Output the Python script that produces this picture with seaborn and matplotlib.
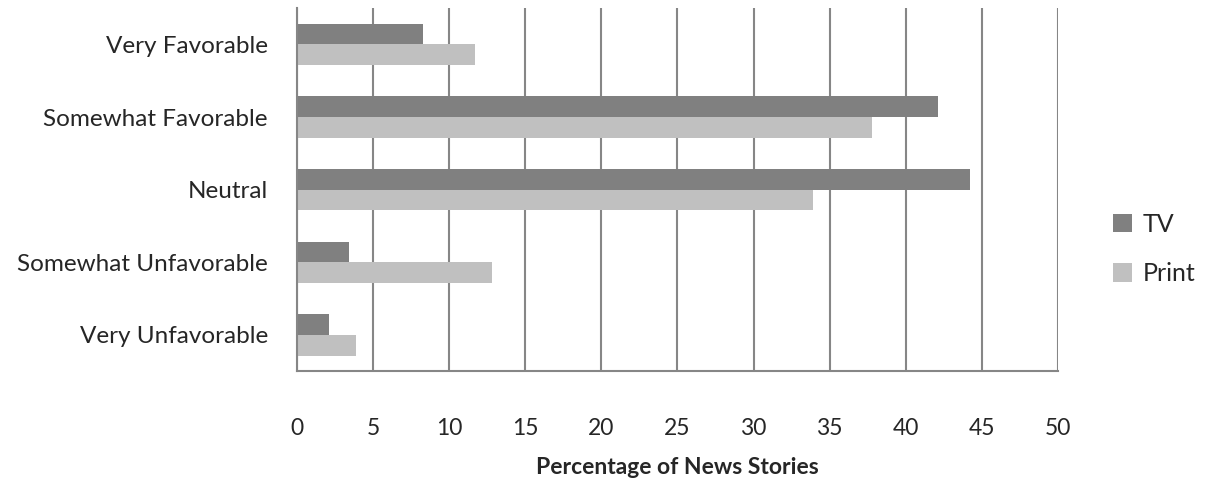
import pandas as pd
import seaborn as sns
import matplotlib.pyplot as plt

# 数据
categories = ["Very Favorable", "Somewhat Favorable", "Neutral",
              "Somewhat Unfavorable", "Very Unfavorable"]
tv_values = [8.3, 42.1, 44.2, 3.4, 2.1]
print_values = [11.7, 37.8, 33.9, 12.8, 3.9]
series_names = ["TV", "Print"]
x_ticks = [0, 5, 10, 15, 20, 25, 30, 35, 40, 45, 50]

df = pd.DataFrame({
    "Category": categories * 2,
    "Value": tv_values + print_values,
    "Media": [series_names[0]] * len(categories) + [series_names[1]] * len(categories),
})

sns.set_style("white")
plt.rcParams['font.family'] = ['Lato', 'DejaVu Sans']

fig = plt.figure(figsize=(12.09, 4.82), dpi=100)
ax = fig.add_axes([0.2457, 0.230, 0.8750 - 0.2457, 0.983 - 0.230])

sns.barplot(
    data=df, y="Category", x="Value", hue="Media",
    order=categories, hue_order=series_names,
    palette={"TV": "#808080", "Print": "#c0c0c0"},
    orient="h", width=0.57, saturation=1, linewidth=0, ax=ax,
)

grid_color = "#868686"
ax.set_xlim(0, 50)
ax.set_xticks(x_ticks)
ax.xaxis.grid(True, color=grid_color, linewidth=1.5)
ax.set_axisbelow(True)
for side in ["top", "right"]:
    ax.spines[side].set_visible(False)
for side in ["left", "bottom"]:
    ax.spines[side].set_color(grid_color)
    ax.spines[side].set_linewidth(1.5)

ax.tick_params(axis="x", direction="out", length=6, width=1.5, color=grid_color,
               labelsize=16.5, pad=28)
ax.tick_params(axis="y", length=0, labelsize=17.5, pad=21)

ax.set_ylabel("")
ax.set_xlabel("Percentage of News Stories", fontsize=16.5, fontweight="bold", labelpad=13)

ax.get_legend().remove()
handles, labels = ax.get_legend_handles_labels()
fig.legend(handles, labels, loc="center left", bbox_to_anchor=(1113 / 1209, 1 - 249 / 482),
           frameon=False, fontsize=18, handlelength=0.75, handleheight=0.75,
           labelspacing=1.05, handletextpad=0.45, borderpad=0, borderaxespad=0)

plt.savefig("out.png", dpi=100)
